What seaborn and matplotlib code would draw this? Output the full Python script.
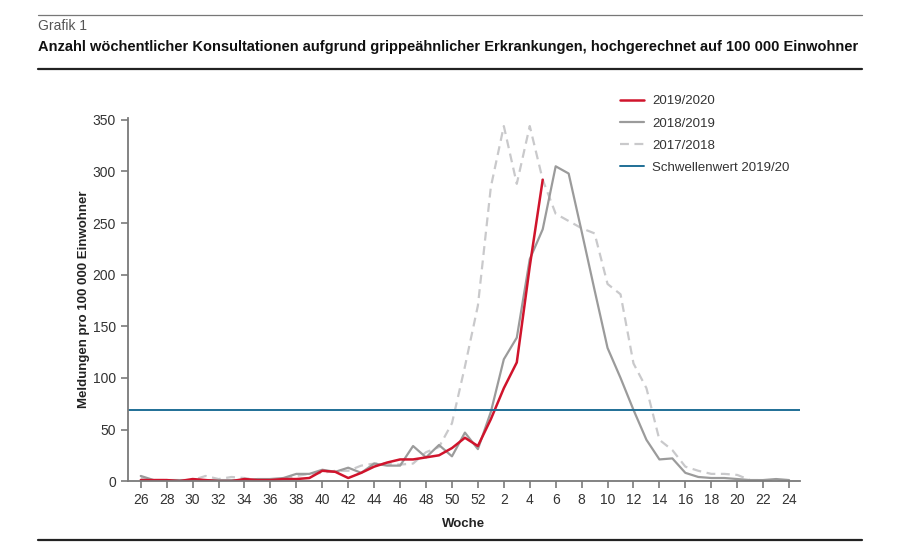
import numpy as np
import pandas as pd
import matplotlib
matplotlib.use("Agg")
import matplotlib.pyplot as plt
from matplotlib.lines import Line2D
import seaborn as sns

# Kalenderwochen von 26 bis 24 des Folgejahres
weeks = list(range(26, 53)) + list(range(1, 25))

s1920 = [1, 1, 1, 0, 2, 1, 0, 0, 2, 1, 1, 2, 2, 3, 10, 9, 3, 8, 14, 18, 21, 21,
         23, 25, 32, 42, 34, 60, 90, 115, 208, 292]
s1819 = [5, 1, 1, 1, 1, 1, 1, 1, 1, 2, 2, 3, 7, 7, 11, 9, 13, 8, 17, 15, 15, 34,
         23, 35, 24, 47, 31, 67, 118, 139, 215, 244, 305, 298, 242, 185, 129,
         100, 69, 40, 21, 22, 8, 4, 3, 3, 2, 1, 1, 2, 1]
s1718 = [3, 1, 1, 1, 1, 5, 2, 4, 3, 1, 2, 2, 5, 7, 8, 10, 10, 15, 17, 17, 16,
         17, 28, 33, 56, 111, 170, 285, 344, 288, 344, 292, 259, 252, 245, 240,
         191, 181, 114, 90, 40, 30, 14, 10, 7, 7, 6, 1, 1, 1, 1]
threshold = 69

series_names = ["2019/2020", "2018/2019", "2017/2018"]
colors = {"2019/2020": "#d0142c", "2018/2019": "#9b9b9b", "2017/2018": "#c9c9cb"}

frames = []
for name, vals in zip(series_names, [s1920, s1819, s1718]):
    frames.append(pd.DataFrame({"pos": np.arange(len(vals)),
                                "Woche": weeks[:len(vals)],
                                "value": vals,
                                "season": name}))
df = pd.concat(frames, ignore_index=True)

sns.set_style("ticks")
plt.rcParams["font.family"] = ["Liberation Sans", "DejaVu Sans"]

fig = plt.figure(figsize=(9, 5.53), dpi=100)
ax = fig.add_axes([0.142, 0.130, 0.747, 0.657])

sns.lineplot(data=df[df.season == "2017/2018"], x="pos", y="value", ax=ax,
             color=colors["2017/2018"], lw=1.6, linestyle=(0, (4, 2.5)),
             label="2017/2018")
sns.lineplot(data=df[df.season == "2018/2019"], x="pos", y="value", ax=ax,
             color=colors["2018/2019"], lw=1.6, label="2018/2019")
sns.lineplot(data=df[df.season == "2019/2020"], x="pos", y="value", ax=ax,
             color=colors["2019/2020"], lw=1.8, label="2019/2020")
ax.axhline(threshold, color="#1f6f96", lw=1.4, label="Schwellenwert 2019/20")

ax.set_xlim(-1, 50.85)
ax.set_ylim(0, 352)
ax.set_yticks(range(0, 351, 50))
tick_pos = list(range(0, len(weeks), 2))
ax.set_xticks(tick_pos)
ax.set_xticklabels([str(weeks[i]) for i in tick_pos])
ax.tick_params(axis="both", colors="#7a7a7a", labelcolor="#333333",
               labelsize=10, length=5, width=1.2, direction="out")
for side in ["top", "right"]:
    ax.spines[side].set_visible(False)
for side in ["left", "bottom"]:
    ax.spines[side].set_color("#7a7a7a")
    ax.spines[side].set_linewidth(1.3)

ax.set_xlabel("Woche", fontsize=9.5, fontweight="bold", color="#222222", labelpad=8)
ax.set_ylabel("Meldungen pro 100 000 Einwohner", fontsize=9.5, fontweight="bold",
              color="#222222", labelpad=2)

handles, labels = ax.get_legend_handles_labels()
order = [labels.index(n) for n in ["2019/2020", "2018/2019", "2017/2018", "Schwellenwert 2019/20"]]
ax.legend([handles[i] for i in order], [labels[i] for i in order],
          loc="upper left", bbox_to_anchor=(0.715, 1.095), frameon=False,
          fontsize=9.5, handlelength=1.8, labelspacing=0.75, handletextpad=0.6,
          labelcolor="#333333")

# Kopfzeile
fig.add_artist(Line2D([0.042, 0.958], [0.973, 0.973], color="#777777", lw=0.9))
fig.add_artist(Line2D([0.042, 0.958], [0.875, 0.875], color="#222222", lw=1.6))
fig.add_artist(Line2D([0.042, 0.958], [0.0235, 0.0235], color="#222222", lw=1.6))
fig.text(0.042, 0.966, "Grafik 1", fontsize=10, color="#555555", va="top")
title = fig.text(0.042, 0.928,
                 "Anzahl wöchentlicher Konsultationen aufgrund grippeähnlicher Erkrankungen, hochgerechnet auf 100 000 Einwohner",
                 fontsize=11, fontweight="bold", color="#111111", va="top")

# Titel auf die Linienbreite einpassen
renderer = fig.canvas.get_renderer()
w = title.get_window_extent(renderer).width
title.set_fontsize(11 * 822 / w)

fig.savefig("out.png", dpi=100)
